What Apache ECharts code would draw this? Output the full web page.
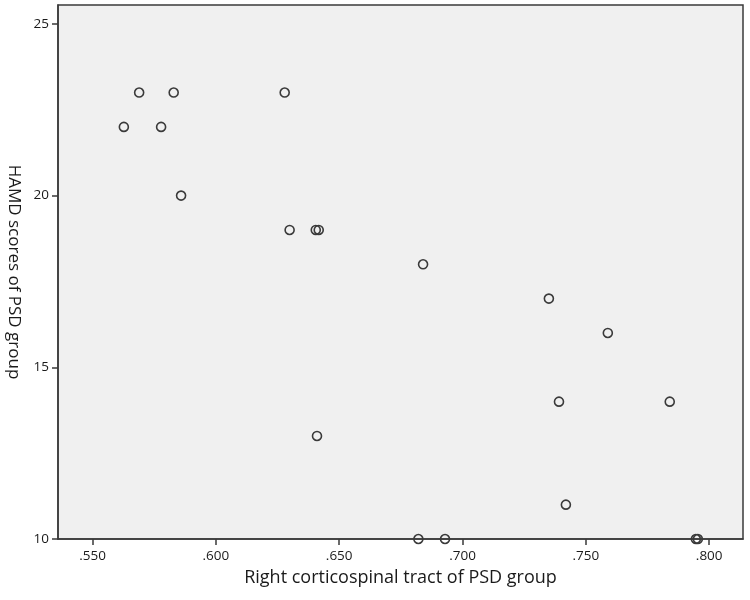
<!DOCTYPE html>
<html>
<head>
<meta charset="utf-8">
<script src="https://cdn.jsdelivr.net/npm/echarts@6/dist/echarts.min.js"></script>
<style>
  html, body { margin: 0; padding: 0; background: #fff; }
  #chart { width: 750px; height: 600px; }
</style>
</head>
<body>
<div id="chart"></div>
<script>
// 数据
let tractValues = [
    0.5627, 0.5689, 0.5778, 0.5829, 0.5859,
    0.6279, 0.6299, 0.6405, 0.6417, 0.6410,
    0.6821, 0.6840, 0.6929,
    0.7350, 0.7391, 0.7419, 0.7589, 0.7840,
    0.7946, 0.7954
];
let hamdScores = [
    22, 23, 22, 23, 20,
    23, 19, 19, 19, 13,
    10, 18, 10,
    17, 14, 11, 16, 14,
    10, 10
];
let xTicks = [0.55, 0.60, 0.65, 0.70, 0.75, 0.80];
let yTicks = [10, 15, 20, 25];

let points = tractValues.map((v, i) => [v, hamdScores[i]]);

let myChart = echarts.init(document.getElementById('chart'));

let axisColor = '#3a3a3a';
let fontFamily = '"Open Sans", "Noto Sans", sans-serif';

let option = {
    backgroundColor: '#ffffff',
    animation: false,
    grid: {
        left: 58,
        right: 7,
        top: 5,
        bottom: 61,
        containLabel: false,
        outerBoundsMode: 'none',
        show: true,
        backgroundColor: '#f0f0f0',
        borderColor: axisColor,
        borderWidth: 1.5
    },
    xAxis: {
        type: 'value',
        min: 0.536,
        max: 0.8137,
        name: 'Right corticospinal tract of PSD group',
        nameLocation: 'middle',
        nameGap: 30,
        nameTextStyle: {
            color: '#1a1a1a',
            fontSize: 18,
            fontFamily: fontFamily
        },
        splitLine: { show: false },
        axisLine: { lineStyle: { color: axisColor, width: 1.5 } },
        axisTick: {
            show: true,
            length: 6,
            customValues: xTicks,
            lineStyle: { color: axisColor, width: 1.5 }
        },
        axisLabel: {
            customValues: xTicks,
            margin: 10,
            color: '#1a1a1a',
            fontSize: 13.5,
            fontFamily: fontFamily,
            formatter: (v) => v.toFixed(3).replace(/^0/, '')
        }
    },
    yAxis: {
        type: 'value',
        min: 10,
        max: 25.55,
        name: 'HAMD scores of PSD group',
        nameLocation: 'middle',
        nameRotate: -90,
        nameGap: 35,
        nameTextStyle: {
            color: '#1a1a1a',
            fontSize: 17,
            fontFamily: fontFamily
        },
        splitLine: { show: false },
        axisLine: { lineStyle: { color: axisColor, width: 1.5 } },
        axisTick: {
            show: true,
            length: 6,
            customValues: yTicks,
            lineStyle: { color: axisColor, width: 1.5 }
        },
        axisLabel: {
            customValues: yTicks,
            margin: 9,
            color: '#1a1a1a',
            fontSize: 13.5,
            fontFamily: fontFamily
        }
    },
    series: [{
        type: 'scatter',
        data: points,
        symbol: 'circle',
        symbolSize: 9,
        clip: true,
        itemStyle: {
            color: 'rgba(240,240,240,0)',
            borderColor: '#3a3a3a',
            borderWidth: 1.6,
            opacity: 1
        }
    }]
};

myChart.setOption(option);
</script>
</body>
</html>
